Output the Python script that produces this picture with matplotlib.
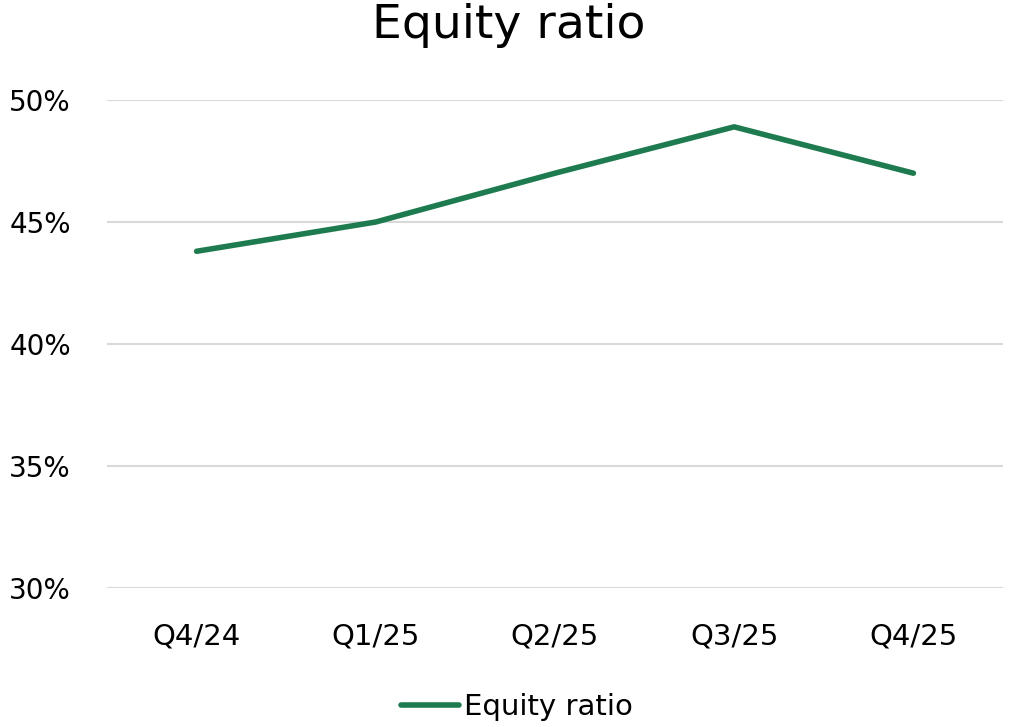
import matplotlib
matplotlib.use("Agg")
import matplotlib.pyplot as plt

categories = ["Q4/24", "Q1/25", "Q2/25", "Q3/25", "Q4/25"]
equity_ratio = [43.8, 45.0, 47.0, 48.9, 47.0]
y_ticks = [30, 35, 40, 45, 50]

plt.rcParams['font.family'] = ['DejaVu Sans']

fig = plt.figure(figsize=(10.17, 7.27), dpi=100)
ax = fig.add_axes([107/1017, 1 - 588/727, (1003 - 107)/1017, (588 - 100)/727])

x = list(range(len(categories)))
line, = ax.plot(x, equity_ratio, color="#1E7B4F", linewidth=4, solid_capstyle="round",
                label="Equity ratio")

ax.set_xlim(-0.5, len(categories) - 0.5)
ax.set_ylim(30, 50)
ax.set_yticks(y_ticks)
ax.set_yticklabels([f"{v}%" for v in y_ticks])
ax.set_xticks(x)
ax.set_xticklabels(categories)

ax.grid(axis="y", color="#D9D9D9", linewidth=1.5)
ax.set_axisbelow(True)
for s in ax.spines.values():
    s.set_visible(False)
ax.tick_params(axis="x", length=0, labelsize=21, colors="black", pad=25)
ax.tick_params(axis="y", length=0, labelsize=20, colors="black", pad=26)

fig.text(0.5, 1 - 26/727, "Equity ratio", ha="center", va="center", fontsize=34)

leg = fig.legend(handles=[line], loc="center", bbox_to_anchor=(0.508, 1 - 707/727),
                 frameon=False, fontsize=21, handlelength=2.0, handletextpad=0.15)

fig.savefig("out.png", dpi=100)
